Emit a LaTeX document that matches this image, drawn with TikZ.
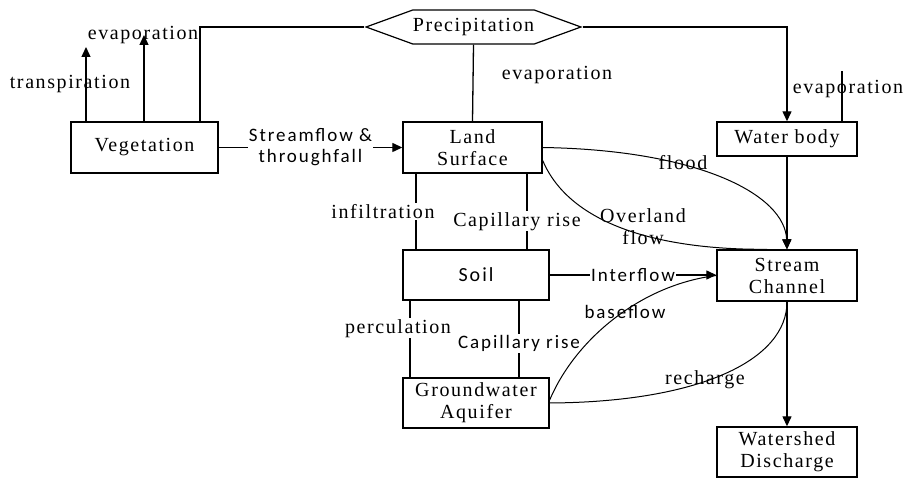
\documentclass[tikz,border=0pt]{standalone}
\usepackage{fontspec}
\setmainfont[LetterSpace=8]{Liberation Serif}
\newfontfamily\labsans[LetterSpace=10]{Carlito}
\usetikzlibrary{arrows.meta,shapes.symbols}

\begin{document}
\begin{tikzpicture}[x=1pt,y=-1pt,font=\fontsize{20}{22}\selectfont,
  >={Triangle[length=10pt,width=9pt]},
  box/.style={draw,line width=1.4pt,inner sep=0pt,align=center},
  flow/.style={line width=1.3pt},
  curveline/.style={line width=1pt},
  lab/.style={fill=white,inner sep=1pt,align=center},
  sanslab/.style={lab,font=\fontsize{19}{21}\selectfont\labsans}]
\useasboundingbox (0,0) rectangle (904,478);
% stores
\node[signal,signal to=east and west,signal pointer angle=40,draw,line width=1.2pt,
  minimum width=213,minimum height=34,inner sep=0pt] (precip) at (473.5,27) {Precipitation};
\node[box,minimum width=147,minimum height=51] (veg) at (144.5,147.5) {Vegetation};
\node[box,minimum width=139,minimum height=51] (land) at (472.5,147.5) {Land\\Surface};
\node[box,minimum width=140,minimum height=34] (water) at (787,139) {Water body};
\node[box,minimum width=146,minimum height=50,font=\fontsize{20}{22}\selectfont\labsans] (soil) at (476,275) {Soil};
\node[box,minimum width=146,minimum height=50] (gw) at (476,403) {Groundwater\\Aquifer};
\node[box,minimum width=140,minimum height=51] (stream) at (787,275.5) {Stream\\Channel};
\node[box,minimum width=140,minimum height=50] (wsd) at (787,452) {Watershed\\Discharge};
% free ends
\coordinate (trx) at (86,47);
\coordinate (evx) at (144,35);
\coordinate (vp) at (200,27);
\coordinate (wev) at (842,71);
\coordinate (infx) at (416,0);
\coordinate (capx) at (527,0);
\coordinate (perx) at (410,0);
\coordinate (cap2x) at (519,0);
% vegetation
\draw[flow,->] (veg.north -| trx) -- (trx);
\draw[flow,->] (veg.north -| evx) -- (evx);
\draw[flow] (veg.north -| vp) |- (precip.west);
\node (trl) at (70,84) {transpiration};
\node (evv) at (143,35) {evaporation};
\draw[flow,->] (veg) -- (land) node[sanslab,midway] (sfl) {Streamflow \&\\throughfall};
% precipitation
\draw[flow] (precip.south) -- (land.north);
\node (evl) at (557,75) {evaporation};
\draw[flow,->] (precip.east) -| (water.north);
\draw[flow] (water.north -| wev) -- (wev);
\node (evw) at (848,89) {evaporation};
\draw[flow,->] (water) -- (stream);
% land surface
\draw[curveline,->] (land.east) .. controls (700,150) and (785,195) .. (stream.north);
\node (fll) at (683,163) {flood};
\draw[curveline] ([yshift=-13pt]land.east) .. controls (570,225) and (660,250) .. ([xshift=-20pt]stream.north);
\node[align=center] (ovl) at (643,227) {Overland\\flow};
\draw[flow] (land.south -| infx) -- (soil.north -| infx) node[lab,midway,xshift=-33pt] (infl) {infiltration};
\draw[flow] (land.south -| capx) -- (soil.north -| capx) node[lab,pos=.63,xshift=-10pt] (capl) {Capillary rise};
% soil
\draw[flow,->] (soil.east) -- (soil.east -| stream.west) node[sanslab,midway] (intl) {Interflow};
\draw[flow] (soil.south -| perx) -- (gw.north -| perx) node[lab,pos=.36,xshift=-12pt] (perl) {perculation};
\draw[flow] (soil.south -| cap2x) -- (gw.north -| cap2x) node[sanslab,pos=.56] (cap2l) {Capillary rise};
% groundwater
\draw[curveline] ([yshift=3pt]gw.east) .. controls (575,340) and (640,285) .. (stream.west);
\node[font=\fontsize{19}{21}\selectfont\labsans] (bfl) at (625,312) {baseflow};
\draw[curveline] (gw.east) .. controls (700,402) and (787,360) .. (stream.south);
\node (rcl) at (705,380) {recharge};
% outlet
\draw[flow,->] (stream) -- (wsd);
\end{tikzpicture}
\end{document}
